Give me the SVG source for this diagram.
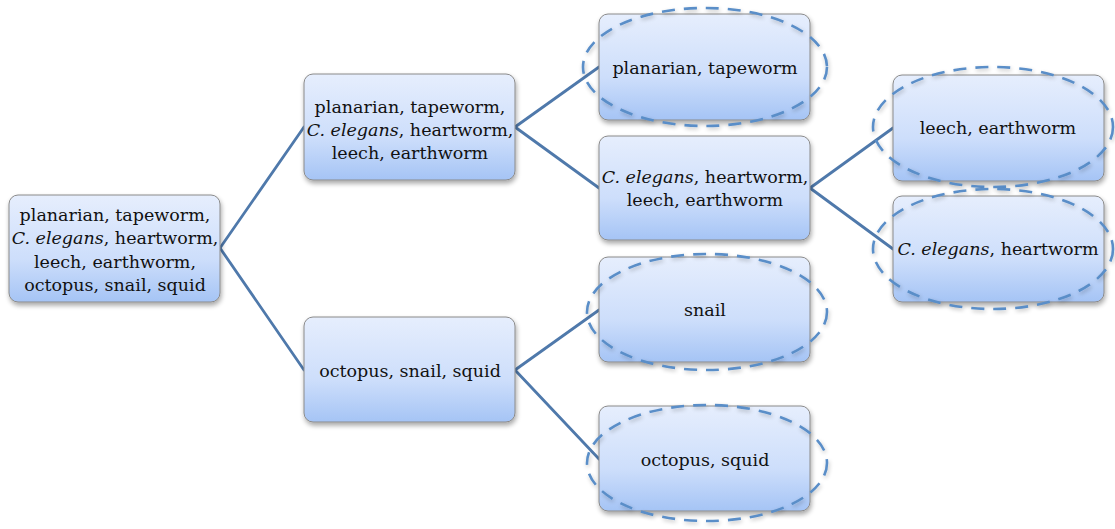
<svg xmlns="http://www.w3.org/2000/svg" width="1115" height="529" viewBox="0 0 1115 529">
<defs>
<linearGradient id="g" x1="0" y1="0" x2="0" y2="1">
<stop offset="0" stop-color="#e6eefd"/>
<stop offset="0.6" stop-color="#cddefb"/>
<stop offset="1" stop-color="#a5c4f5"/>
</linearGradient>
<filter id="sh" x="-10%" y="-10%" width="125%" height="130%">
<feGaussianBlur in="SourceAlpha" stdDeviation="2.5"/>
<feOffset dx="1" dy="3" result="b"/>
<feComponentTransfer><feFuncA type="linear" slope="0.35"/></feComponentTransfer>
<feMerge><feMergeNode/><feMergeNode in="SourceGraphic"/></feMerge>
</filter>
<filter id="esh" x="-10%" y="-10%" width="125%" height="130%">
<feGaussianBlur in="SourceAlpha" stdDeviation="2"/>
<feOffset dx="1" dy="2" result="b"/>
<feComponentTransfer><feFuncA type="linear" slope="0.25"/></feComponentTransfer>
<feMerge><feMergeNode/><feMergeNode in="SourceGraphic"/></feMerge>
</filter>
</defs>
<style>
.box{fill:url(#g);stroke:#8a8a8a;stroke-width:1;filter:url(#sh)}
.ell{fill:none;stroke:#5a8ec8;stroke-width:2.6;stroke-dasharray:13 9;filter:url(#esh)}
.t{font-family:"DejaVu Serif","Liberation Serif",serif;font-size:17.5px;fill:#111;text-anchor:middle}
.i{font-style:italic}
.c line{stroke:#4f79ab;stroke-width:2.8;stroke-linecap:round}
</style>
<rect width="1115" height="529" fill="#ffffff"/>
<g class="c" id="connectors">
<line x1="220" y1="248" x2="304" y2="127"/>
<line x1="220" y1="248" x2="304" y2="370"/>
<line x1="515" y1="127" x2="599" y2="67"/>
<line x1="515" y1="127" x2="599" y2="188"/>
<line x1="810" y1="188" x2="893" y2="128"/>
<line x1="810" y1="188" x2="893" y2="249"/>
<line x1="515" y1="370" x2="599" y2="310"/>
<line x1="515" y1="370" x2="599" y2="459"/>
</g>
<g id="n-all">
<rect class="box" x="9" y="195" width="211" height="107" rx="9"/>
<text class="t" x="115" y="221">planarian, tapeworm,</text>
<text class="t" x="115" y="244"><tspan class="i">C. elegans</tspan>, heartworm,</text>
<text class="t" x="115" y="268">leech, earthworm,</text>
<text class="t" x="115" y="291">octopus, snail, squid</text>
</g>
<g id="n-worms">
<rect class="box" x="304" y="74" width="211" height="106" rx="9"/>
<text class="t" x="410" y="113">planarian, tapeworm,</text>
<text class="t" x="410" y="136"><tspan class="i">C. elegans</tspan>, heartworm,</text>
<text class="t" x="410" y="159">leech, earthworm</text>
</g>
<g id="n-molluscs">
<rect class="box" x="304" y="317" width="211" height="105" rx="9"/>
<text class="t" x="410" y="377">octopus, snail, squid</text>
</g>
<g id="n-flat">
<rect class="box" x="599" y="14" width="211" height="106" rx="9"/>
<text class="t" x="705" y="74">planarian, tapeworm</text>
<ellipse class="ell" cx="705" cy="67" rx="122" ry="59"/>
</g>
<g id="n-round-seg">
<rect class="box" x="599" y="136" width="211" height="104" rx="9"/>
<text class="t" x="705" y="183"><tspan class="i">C. elegans</tspan>, heartworm,</text>
<text class="t" x="705" y="206">leech, earthworm</text>
</g>
<g id="n-snail">
<rect class="box" x="599" y="257" width="211" height="105" rx="9"/>
<text class="t" x="705" y="316">snail</text>
<ellipse class="ell" cx="707" cy="312" rx="120" ry="58"/>
</g>
<g id="n-octsquid">
<rect class="box" x="599" y="406" width="211" height="105" rx="9"/>
<text class="t" x="705" y="466">octopus, squid</text>
<ellipse class="ell" cx="707" cy="463" rx="120" ry="58"/>
</g>
<g id="n-seg">
<rect class="box" x="893" y="75" width="211" height="106" rx="9"/>
<text class="t" x="998" y="134">leech, earthworm</text>
<ellipse class="ell" cx="993" cy="127" rx="120" ry="60"/>
</g>
<g id="n-round">
<rect class="box" x="893" y="196" width="211" height="106" rx="9"/>
<text class="t" x="998" y="255"><tspan class="i">C. elegans</tspan>, heartworm</text>
<ellipse class="ell" cx="993" cy="249" rx="120" ry="60"/>
</g>
</svg>
